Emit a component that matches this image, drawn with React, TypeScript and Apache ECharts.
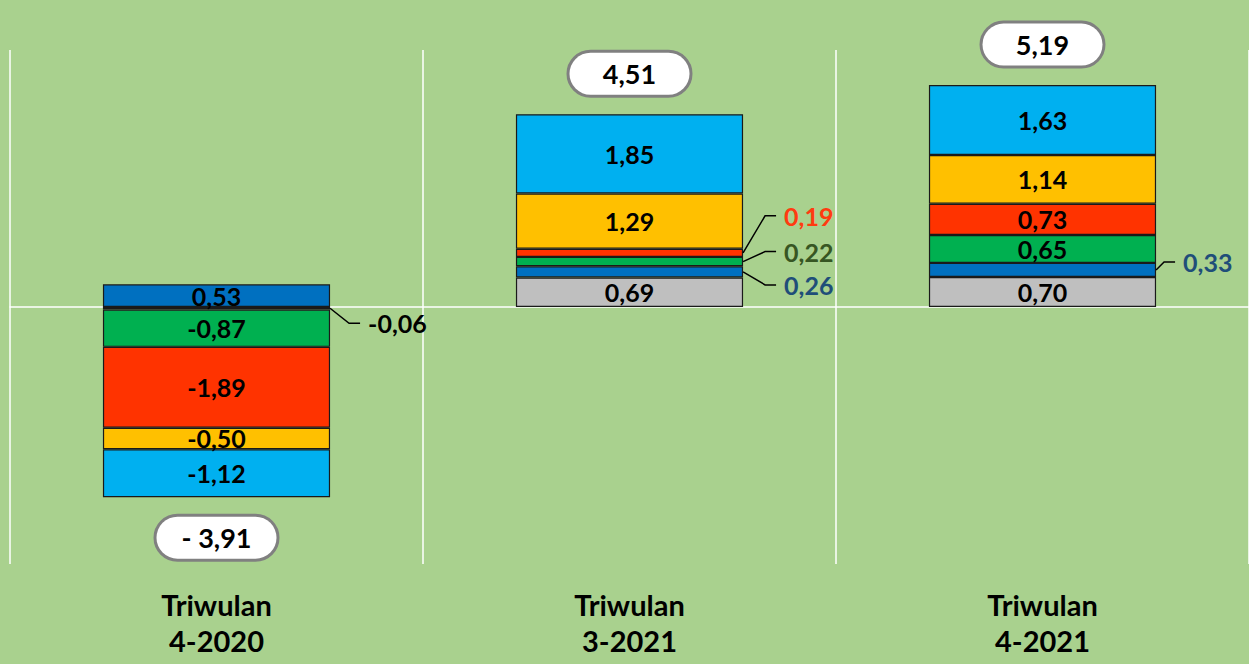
import React, { useEffect, useRef } from "react";
import * as echarts from "echarts";

const categories = ["Triwulan\n4-2020", "Triwulan\n3-2021", "Triwulan\n4-2021"];
const seriesNames = ["Komponen A", "Komponen B", "Komponen C", "Komponen D", "Komponen E", "Komponen F"];
const grayVals = [-0.06, 0.69, 0.7];
const darkBlueVals = [0.53, 0.26, 0.33];
const greenVals = [-0.87, 0.22, 0.65];
const redVals = [-1.89, 0.19, 0.73];
const yellowVals = [-0.5, 1.29, 1.14];
const lightBlueVals = [-1.12, 1.85, 1.63];
const totalLabels = ["- 3,91", "4,51", "5,19"];

const seriesValues = [grayVals, darkBlueVals, greenVals, redVals, yellowVals, lightBlueVals];
const seriesColors = ["#BFBFBF", "#0070C0", "#00B050", "#FF3300", "#FFC000", "#00B0F0"];

// items labelled outside the bar: [category, series, label dy, elbow dx, colour]
const outside: [number, number, number, number, string][] = [
  [0, 0, 15, 19, "#000000"],
  [1, 3, -37, 22, "#FF3B10"],
  [1, 2, -10, 22, "#375623"],
  [1, 1, 13, 22, "#1F4E79"],
  [2, 1, -8, 8, "#1F4E79"],
];

const fmt = (v: number) => v.toFixed(2).replace(".", ",");
const FONT = "Lato";

export default function App() {
  const ref = useRef<HTMLDivElement>(null);
  useEffect(() => {
    document.body.style.margin = "0";
    const chart = echarts.init(ref.current!, null, { renderer: "svg" });
    const isOutside = (c: number, s: number) => outside.some((o) => o[0] === c && o[1] === s);

    // stacked extents (same-sign stacking)
    const pos = categories.map(() => 0);
    const neg = categories.map(() => 0);
    const mids: number[][] = seriesValues.map(() => []);
    seriesValues.forEach((vals, s) => {
      vals.forEach((v, c) => {
        if (v >= 0) {
          mids[s][c] = pos[c] + v / 2;
          pos[c] += v;
        } else {
          mids[s][c] = neg[c] + v / 2;
          neg[c] += v;
        }
      });
    });

    const barSeries = seriesValues.map((vals, s) => ({
      name: seriesNames[s],
      type: "bar",
      stack: "total",
      barWidth: "55%",
      xAxisIndex: 0,
      yAxisIndex: 0,
      itemStyle: { color: seriesColors[s], borderColor: "#1a1a1a", borderWidth: 1.2 },
      data: vals.map((v, c) => ({
        value: v,
        label: {
          show: !isOutside(c, s),
          position: "inside",
          formatter: () => fmt(v),
          color: "#000",
          fontFamily: FONT,
          fontWeight: "bold",
          fontSize: 25,
        },
      })),
    }));

    const totalSeries = {
      type: "scatter",
      xAxisIndex: 0,
      yAxisIndex: 0,
      symbolSize: 1,
      itemStyle: { color: "rgba(0,0,0,0)", opacity: 1 },
      z: 10,
      data: categories.map((_, c) => {
        const neg0 = totalLabels[c].trim().startsWith("-");
        return {
          value: [c, neg0 ? neg[c] : pos[c]],
          label: {
            show: true,
            position: neg0 ? "bottom" : "top",
            distance: 19,
            formatter: totalLabels[c],
            color: "#000",
            fontFamily: FONT,
            fontWeight: "bold",
            fontSize: 27,
            lineHeight: 28,
            backgroundColor: "#ffffff",
            borderColor: "#808080",
            borderWidth: 3,
            borderRadius: 22,
            padding: [7, 0],
            width: 120,
            align: "center",
          },
        };
      }),
    };

    chart.setOption({
      animation: false,
      backgroundColor: "#A9D18E",
      grid: { left: 10, right: 0, top: 50, bottom: 100, containLabel: false },
      xAxis: [
        {
          type: "category",
          data: categories,
          position: "bottom",
          axisLine: { show: true, onZero: true, lineStyle: { color: "#ffffff", width: 1.5 } },
          axisTick: { show: false },
          axisLabel: { show: false },
          splitLine: { show: true, lineStyle: { color: "#ffffff", width: 1.5 } },
        },
        {
          type: "category",
          data: categories,
          position: "bottom",
          axisLine: { show: false, onZero: false },
          axisTick: { show: false },
          splitLine: { show: false },
          axisLabel: {
            show: true,
            margin: 22,
            color: "#000",
            fontFamily: FONT,
            fontWeight: "bold",
            fontSize: 29,
            lineHeight: 36,
          },
        },
      ],
      yAxis: {
        type: "value",
        min: -6,
        max: 6,
        interval: 6,
        axisLine: { show: false },
        axisTick: { show: false },
        axisLabel: { show: false },
        splitLine: { show: false },
      },
      series: [...barSeries, totalSeries],
    });

    // outside labels with leader lines
    const graphics: any[] = [];
    const p0 = chart.convertToPixel({ xAxisIndex: 0, yAxisIndex: 0 }, [0, 0]) as number[];
    const p1 = chart.convertToPixel({ xAxisIndex: 0, yAxisIndex: 0 }, [1, 0]) as number[];
    const halfBar = ((p1[0] - p0[0]) * 0.55) / 2;
    outside.forEach(([c, s, dy, ex, color]) => {
      const pt = chart.convertToPixel({ xAxisIndex: 0, yAxisIndex: 0 }, [c, mids[s][c]]) as number[];
      const x0 = pt[0] + halfBar;
      const y0 = pt[1];
      const yt = y0 + dy;
      graphics.push({
        type: "polyline",
        z: 20,
        shape: { points: [[x0, y0], [x0 + ex, yt], [x0 + ex + 11, yt]] },
        style: { stroke: "#000", lineWidth: 1.5, fill: null },
      });
      graphics.push({
        type: "text",
        z: 20,
        x: x0 + ex + 19,
        y: yt,
        style: {
          text: fmt(seriesValues[s][c]),
          fill: color,
          font: `bold 25px ${FONT}`,
          verticalAlign: "middle",
          align: "left",
        },
      });
    });
    chart.setOption({ graphic: graphics });

    return () => chart.dispose();
  }, []);
  return (
    <div
      ref={ref}
      style={{ position: "fixed", left: 0, top: 0, width: 1249, height: 664, background: "#A9D18E" }}
    />
  );
}
